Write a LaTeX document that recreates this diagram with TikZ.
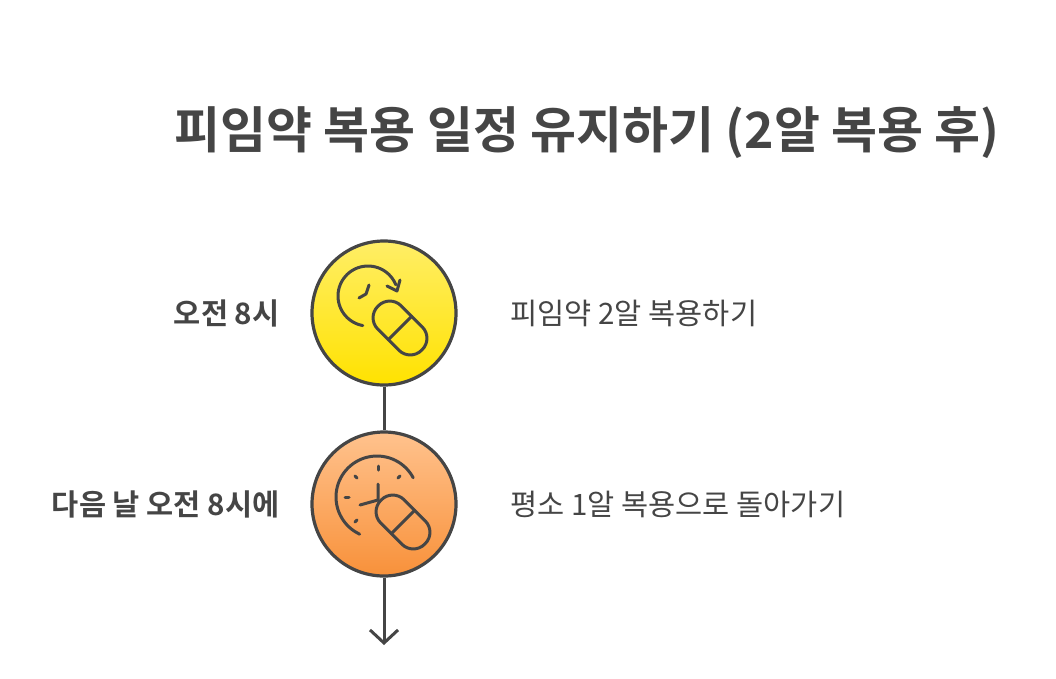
\documentclass[tikz,border=0pt]{standalone}
\usepackage{fontspec}
\setmainfont{Noto Sans CJK KR}
\newfontfamily\kb{Noto Sans CJK KR Bold}
\usetikzlibrary{arrows.meta}
\definecolor{ink}{HTML}{454545}
\definecolor{ya}{HTML}{FFEE66}
\definecolor{yb}{HTML}{FFE200}
\definecolor{oa}{HTML}{FFC28D}
\definecolor{ob}{HTML}{F8913A}
\tikzset{
  stepcirc/.style={circle,draw=ink,line width=3.2pt,minimum size=144pt,inner sep=0pt},
  icon/.style={draw=ink,line width=3pt,line cap=round,line join=round},
  lbl/.style={font=\kb\fontsize{29.5}{32}\selectfont,text=ink,anchor=east},
  desc/.style={font=\fontsize{29.5}{32}\selectfont,text=ink,anchor=west},
}
\begin{document}
\begin{tikzpicture}[x=1pt,y=-1pt]
\useasboundingbox (0,0) rectangle (1056,678);
\node[font=\kb\fontsize{50}{56}\selectfont,text=ink] (title) at (587,133) {피임약 복용 일정 유지하기 (2알 복용 후)};
\node[stepcirc,top color=ya,bottom color=yb] (c1) at (384,313) {};
\node[stepcirc,top color=oa,bottom color=ob] (c2) at (384,504) {};
\coordinate (end) at (384,645);
\draw[ink,line width=3pt] (c1) -- (c2);
\draw[ink,line width=3pt,-{Straight Barb[length=13pt,width=28pt,line width=3pt]}] (c2) -- (end);
% icon 1
\draw[icon] plot[domain=100:338,samples=50] ({368+30*cos(\x)},{296+30*sin(\x)});
\draw[icon] (387,286) -- (397,291) -- (400,280);
\draw[icon] (369,285) -- (366,294) -- (359,298);
\begin{scope}[shift={(400,328)},rotate=-45]
\draw[icon,rounded corners=16pt] (-31,-16.5) rectangle (31,16.5);
\draw[icon] (0,-16.5) -- (0,16.5);
\end{scope}
% icon 2
\draw[icon] plot[domain=115:332,samples=50] ({377+41*cos(\x)},{497+41*sin(\x)});
\draw[icon] (378,484) -- (378,500) -- (360,505);
\draw[icon] (378,466) -- (378,470);
\draw[icon] (355,476) -- (357,478);
\draw[icon] (400,476) -- (398,478);
\draw[icon] (345,497) -- (349,497);
\draw[icon] (355,522) -- (357,520);
\begin{scope}[shift={(403,522)},rotate=-45]
\draw[icon,rounded corners=16pt] (-31,-16.5) rectangle (31,16.5);
\draw[icon] (0,-16.5) -- (0,16.5);
\end{scope}
\node[lbl] (l1) at (283,313) {오전 8시};
\node[lbl] (l2) at (283,504) {다음 날 오전 8시에};
\node[desc] (d1) at (507,313) {피임약 2알 복용하기};
\node[desc] (d2) at (507,504) {평소 1알 복용으로 돌아가기};
\end{tikzpicture}
\end{document}
